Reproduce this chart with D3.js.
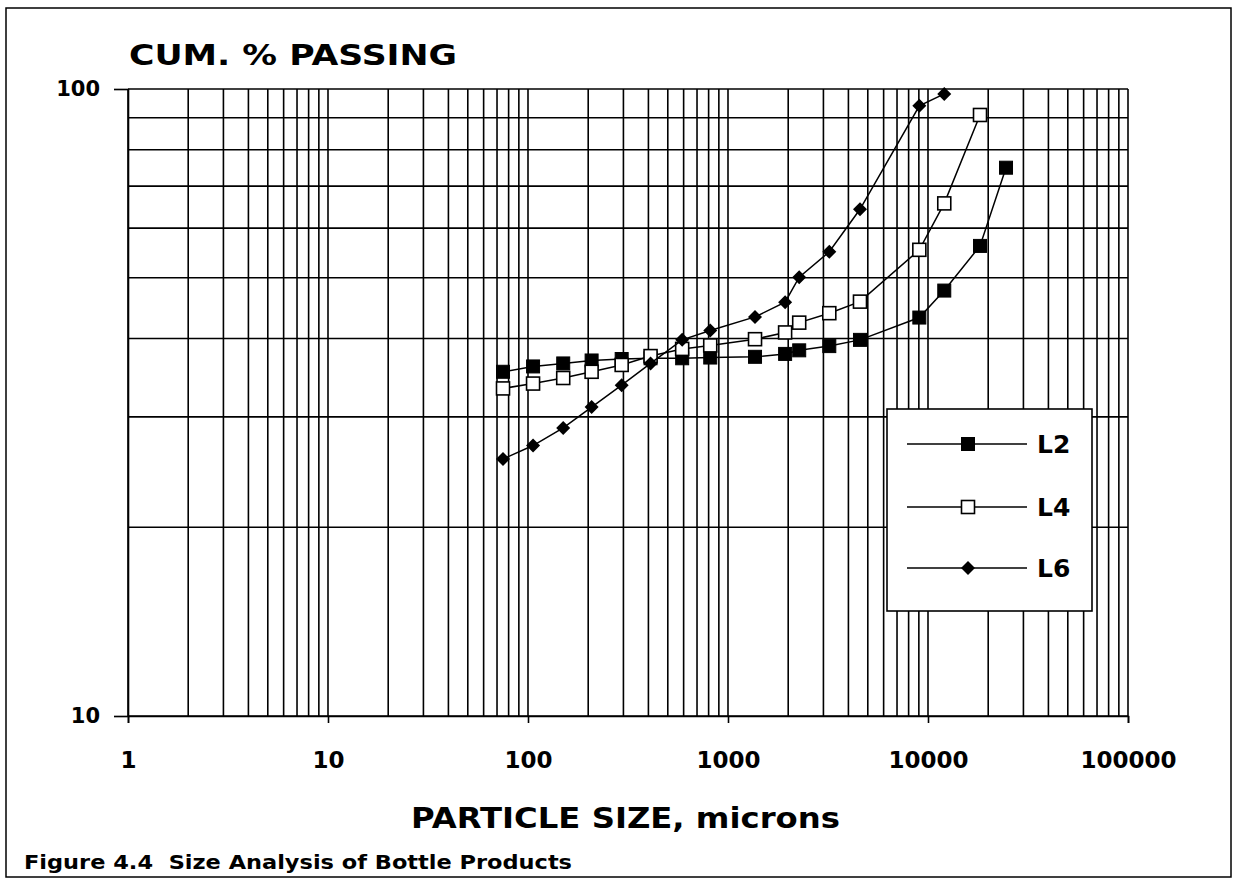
<!DOCTYPE html>
<html>
<head>
<meta charset="utf-8">
<script src="https://cdn.jsdelivr.net/npm/d3@7"></script>
<style>
  html, body { margin: 0; padding: 0; background: #fff; }
  svg { display: block; }
  text { font-family: "DejaVu Sans", "Liberation Sans", sans-serif; font-weight: bold; fill: #000; }
</style>
</head>
<body>
<svg id="chart" width="1235" height="881"></svg>
<script>
// ---- data ----
const sizes = [75, 106, 150, 208, 294, 410, 590, 815, 1365, 1930, 2270, 3210, 4570, 9050, 12060, 18200, 24550];
const L2 = [35.4, 36.1, 36.5, 36.9, 37.1, 37.2, 37.2, 37.3, 37.4, 37.8, 38.3, 38.9, 39.8, 43.2, 47.7, 56.2, 74.9];
const L4 = [33.3, 33.9, 34.6, 35.4, 36.3, 37.5, 38.5, 39.0, 39.9, 40.9, 42.4, 43.9, 45.8, 55.4, 65.7, 90.9];
const L6 = [25.7, 27.0, 28.8, 31.1, 33.7, 36.5, 39.8, 41.2, 43.3, 45.7, 50.1, 55.0, 64.3, 94.0, 98.2];
const seriesNames = ["L2", "L4", "L6"];
const xTickLabels = [1, 10, 100, 1000, 10000, 100000];
const yTickLabels = [10, 100];
const yGrid = [10, 20, 30, 40, 50, 60, 70, 80, 90, 100];

(function () {
const series = [
  { name: seriesNames[0], values: L2, marker: "filledSquare" },
  { name: seriesNames[1], values: L4, marker: "hollowSquare" },
  { name: seriesNames[2], values: L6, marker: "diamond" }
];

const svg = d3.select("#chart");
const mLeft = 128, mRight = 1128, mTop = 89, mBottom = 716;

const x = d3.scaleLog().domain([1, 100000]).range([mLeft, mRight]);
const y = d3.scaleLog().domain([10, 100]).range([mBottom, mTop]);

// outer frame
svg.append("rect").attr("x", 6).attr("y", 8).attr("width", 1225).attr("height", 869)
  .attr("fill", "none").attr("stroke", "#000").attr("stroke-width", 1.5);

// grid
const xGrid = [];
for (let d = 0; d < 5; d++) for (let k = 1; k <= 9; k++) xGrid.push(k * Math.pow(10, d));
xGrid.push(100000);

const grid = svg.append("g").attr("stroke", "#000").attr("stroke-width", 1.6);
grid.selectAll("line.vx").data(xGrid).join("line").attr("class", "vx")
  .attr("x1", d => x(d)).attr("x2", d => x(d)).attr("y1", mTop).attr("y2", mBottom);
grid.selectAll("line.hy").data(yGrid).join("line").attr("class", "hy")
  .attr("x1", mLeft).attr("x2", mRight).attr("y1", d => y(d)).attr("y2", d => y(d));

// axes
const xAxis = d3.axisBottom(x).tickValues(xTickLabels).tickSize(7).tickPadding(29)
  .tickFormat(d3.format("d"));
const gx = svg.append("g").attr("transform", `translate(0,${mBottom})`).call(xAxis);
gx.select(".domain").attr("stroke", "#000").attr("stroke-width", 1.6);
gx.selectAll(".tick line").attr("stroke", "#000").attr("stroke-width", 1.6);
gx.selectAll(".tick text").attr("font-size", 23).attr("font-family", "DejaVu Sans").attr("font-weight", "bold").attr("fill", "#000");

const yAxis = d3.axisLeft(y).tickValues(yTickLabels).tickSize(14).tickPadding(14)
  .tickFormat(d3.format("d"));
const gy = svg.append("g").attr("transform", `translate(${mLeft},0)`).call(yAxis);
gy.select(".domain").attr("stroke", "#000").attr("stroke-width", 1.6);
gy.selectAll(".tick line").attr("stroke", "#000").attr("stroke-width", 1.2);
gy.selectAll(".tick text").attr("font-size", 21).attr("font-family", "DejaVu Sans").attr("font-weight", "bold").attr("fill", "#000");

// markers
function drawMarker(g, type, cx, cy) {
  if (type === "filledSquare") {
    g.append("rect").attr("x", cx - 6.5).attr("y", cy - 6.5).attr("width", 13).attr("height", 13)
      .attr("fill", "#000").attr("stroke", "#000").attr("stroke-width", 1);
  } else if (type === "hollowSquare") {
    g.append("rect").attr("x", cx - 6.5).attr("y", cy - 6.5).attr("width", 13).attr("height", 13)
      .attr("fill", "#fff").attr("stroke", "#000").attr("stroke-width", 1.6);
  } else {
    const r = 7;
    g.append("path").attr("d", `M${cx},${cy - r}L${cx + r},${cy}L${cx},${cy + r}L${cx - r},${cy}Z`)
      .attr("fill", "#000");
  }
}

const line = d3.line().x(d => x(d[0])).y(d => y(d[1]));
series.forEach(s => {
  const pts = s.values.map((v, i) => [sizes[i], v]);
  const g = svg.append("g");
  g.append("path").datum(pts).attr("d", line).attr("fill", "none")
    .attr("stroke", "#000").attr("stroke-width", 1.5);
  pts.forEach(p => drawMarker(g, s.marker, x(p[0]), y(p[1])));
});

// legend
const lg = svg.append("g");
lg.append("rect").attr("x", 887).attr("y", 409).attr("width", 205).attr("height", 202)
  .attr("fill", "#fff").attr("stroke", "#000").attr("stroke-width", 1.6);
const legendY = [444, 507, 568];
series.forEach((s, i) => {
  lg.append("line").attr("x1", 907).attr("x2", 1027).attr("y1", legendY[i]).attr("y2", legendY[i])
    .attr("stroke", "#000").attr("stroke-width", 1.5);
  drawMarker(lg, s.marker, 968, legendY[i]);
  lg.append("text").attr("x", 1037).attr("y", legendY[i] + 9).attr("font-size", 25).text(s.name);
});

// titles
svg.append("text").attr("x", 129).attr("y", 65).attr("font-size", 28)
  .attr("textLength", 328).attr("lengthAdjust", "spacingAndGlyphs").text("CUM. % PASSING");
svg.append("text").attr("x", 411).attr("y", 828).attr("font-size", 29)
  .attr("textLength", 429).attr("lengthAdjust", "spacingAndGlyphs").text("PARTICLE SIZE, microns");
svg.append("text").attr("x", 24).attr("y", 869).attr("font-size", 20)
  .attr("textLength", 548).attr("lengthAdjust", "spacingAndGlyphs").attr("xml:space", "preserve")
  .text("Figure 4.4  Size Analysis of Bottle Products");
})();
</script>
</body>
</html>
